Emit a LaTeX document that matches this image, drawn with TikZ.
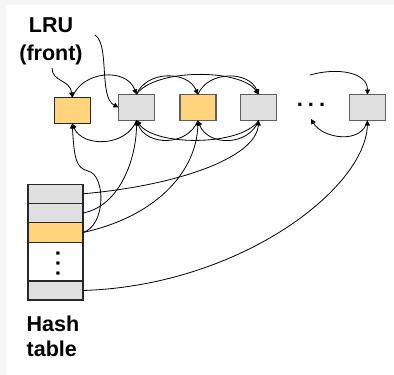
\documentclass[tikz,border=0pt]{standalone}
\usepackage{fontspec}
\setmainfont{Liberation Sans}
\usetikzlibrary{arrows.meta}
\definecolor{bggray}{RGB}{246,246,246}
\definecolor{boxor}{RGB}{255,212,125}
\definecolor{boxgr}{RGB}{224,224,224}
\definecolor{darkedge}{RGB}{40,40,40}
\definecolor{grayedge}{RGB}{95,95,95}
\begin{document}
\begin{tikzpicture}[x=1pt,y=-1pt,
  listbox/.style={draw=grayedge, line width=1.3pt, minimum width=36pt, minimum height=26pt, inner sep=0pt, outer sep=0pt},
  hrow/.style={draw=darkedge, line width=1.2pt, minimum width=55pt, inner sep=0pt, outer sep=0pt},
  link/.style={line width=0.8pt, -{Triangle[length=5pt,width=5pt]}},
  plain/.style={line width=0.8pt},
  lbl/.style={font=\fontsize{21.5}{26}\selectfont\bfseries, inner sep=0pt},
  dotlbl/.style={font=\fontsize{22}{26}\selectfont\bfseries, inner sep=0pt}]
\useasboundingbox (0,0) rectangle (394,375);
\fill[bggray] (0,0) rectangle (394,375);
\fill[white] (6,5) rectangle (394,375);

% list boxes
\node[listbox, fill=boxor, draw=darkedge] (b1) at (72.2,110.5) {};
\node[listbox, fill=boxgr] (b2) at (136.5,107.3) {};
\node[listbox, fill=boxor] (b3) at (197.9,107.5) {};
\node[listbox, fill=boxgr] (b4) at (258.7,107.5) {};
\node[listbox, fill=boxgr] (b5) at (367.5,107.5) {};
\node[dotlbl] (dots) at (311,105) {.\hspace{5pt}.\hspace{5pt}.};
\coordinate (dt) at (310,75);
\coordinate (db) at (311,119);

% hash table
\node[hrow, fill=boxgr, minimum height=19pt] (h1) at (55.5,193.8) {};
\node[hrow, fill=boxgr, minimum height=19.4pt] (h2) at (55.5,213) {};
\node[hrow, fill=boxor, minimum height=19.6pt] (h3) at (55.5,232.5) {};
\node[hrow, fill=white, minimum height=38.7pt] (h4) at (55.5,261.6) {};
\node[hrow, fill=boxgr, minimum height=19pt] (h5) at (55.5,290.5) {};
\node[dotlbl, rotate=-90] (vdots) at (58,263.5) {.\hspace{3.5pt}.\hspace{3.5pt}.};

% labels
\node[lbl, anchor=base] (lru1) at (51,32) {LRU};
\node[lbl, anchor=base] (lru2) at (51,60) {(front)};
\node[lbl, anchor=base west] (hash1) at (26.5,331.7) {Hash};
\node[lbl, anchor=base west] (hash2) at (26.5,356.7) {table};
\coordinate (fr) at (52,68);
\coordinate (lrs) at (95,35);
\coordinate (kink) at (88,171);

% label pointers
\draw[link] (fr) .. controls +(0,14) and +(-2,-18) .. (b1.north);
\draw[link] (lrs) .. controls +(15,10) and +(-20,-10) .. (b2.west);

% top (next) arcs
\draw[link] (b1.north) .. controls +(10,-27) and +(-10,-27) .. (b2.north);
\draw[link] (b2.north) .. controls +(10,-24) and +(-10,-24) .. (b3.north);
\draw[link] (b2.north) .. controls +(18,-26) and +(-18,-26) .. (b4.north);
\draw[link] (b3.north) .. controls +(10,-24) and +(-10,-24) .. (b4.north);
\draw[link] (dt) .. controls +(28,-8) and +(0,-22) .. (b5.north);

% bottom (prev) arcs
\draw[link] (b2.south) .. controls +(-10,27) and +(10,24) .. (b1.south);
\draw[link] (b3.south) .. controls +(-10,26) and +(10,26) .. (b2.south);
\draw[link] (b4.south) .. controls +(-18,26) and +(18,26) .. (b2.south);
\draw[link] (b4.south) .. controls +(-10,26) and +(10,26) .. (b3.south);
\draw[link] (b5.south) .. controls +(-5,24) and +(12,20) .. (db);

% hash table pointers
\draw[link] (h1.east) .. controls +(92,-8) and +(-3,38) .. (b4.south);
\draw[link] (h2.east) .. controls +(37,-7) and +(0,38) .. (b2.south);
\draw[link] (h3.east) .. controls +(77,-17) and +(-1,48) .. (b3.south);
\draw[plain] (h3.east) .. controls +(23,-7) and +(18,4) .. (kink);
\draw[link] (kink) .. controls +(-12,-3) and +(2,35) .. (b1.south);
\draw[link] (h5.east) .. controls +(157,-5) and +(-2,68) .. (b5.south);
\end{tikzpicture}
\end{document}
